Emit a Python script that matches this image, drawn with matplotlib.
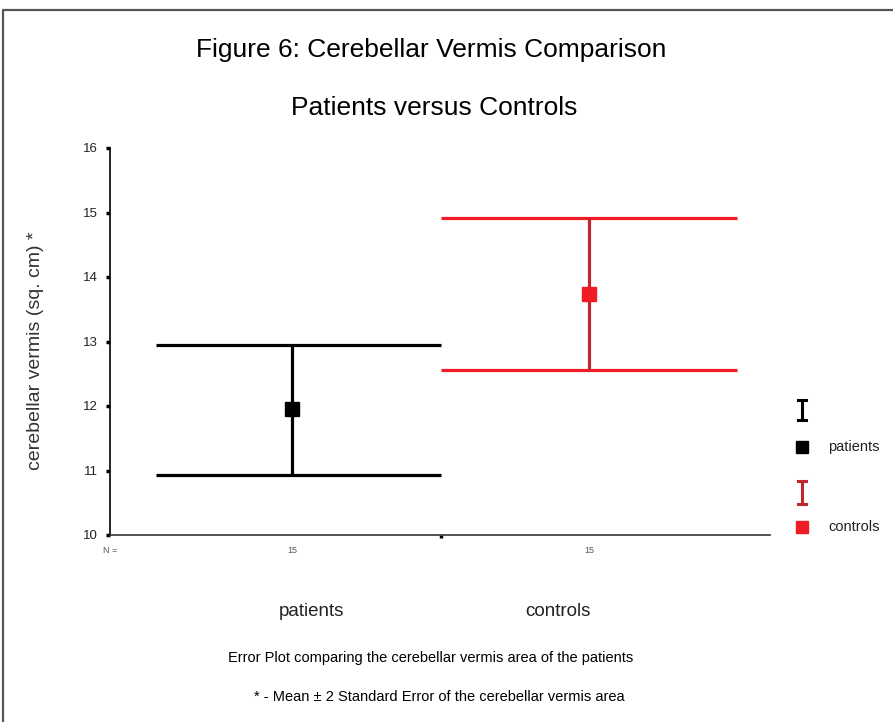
import matplotlib

matplotlib.use("Agg")
import matplotlib.pyplot as plt
import numpy as np
from matplotlib.lines import Line2D

plt.rcParams["font.family"] = ["Liberation Sans", "DejaVu Sans"]

# data (mean +/- 2 SE)
groups = ["patients", "controls"]
means = [11.95, 13.74]
lower = [10.93, 12.56]
upper = [12.95, 14.91]
n_counts = [15, 15]
colors = ["#000000", "#ee1c24"]
stem_colors = ["#000000", "#c0282d"]
y_ticks = [10, 11, 12, 13, 14, 15, 16]

W, H = 893, 722
fig = plt.figure(figsize=(W / 100, H / 100), dpi=100)


def px(x, y):
    return x / W, 1 - y / H


# figure frame (only left and top edges are visible in the source)
fig.add_artist(Line2D([3 / W, 3 / W, 1], [0, 1 - 10 / H, 1 - 10 / H], transform=fig.transFigure,
                      color="#555555", linewidth=1.6))

ax = fig.add_axes([110 / W, 1 - 535 / H, 660 / W, 387 / H])
pos = np.arange(1, len(groups) + 1)
cap_left = [0.46, 0.5]
cap_right = [0.5, 0.5]
for p, m, lo, hi, c, sc, cl, cr in zip(pos, means, lower, upper, colors, stem_colors, cap_left, cap_right):
    ax.hlines([lo, hi], p - cl, p + cr, color=c, linewidth=2.3)
    ax.vlines(p, lo, hi, color=sc, linewidth=2.3)
    ax.plot(p, m, marker="s", markersize=10, color=c, linestyle="none", zorder=3)

ax.set_xlim(0.385, 2.61)
ax.set_ylim(10, 16)
ax.set_yticks(y_ticks)
ax.tick_params(axis="y", direction="out", length=3, width=2.5, labelsize=9.5,
               labelcolor="#222222", pad=6)
ax.set_xticks([1.5])
ax.set_xticklabels([])
ax.tick_params(axis="x", direction="out", length=2, width=2.5)
for s in ["top", "right"]:
    ax.spines[s].set_visible(False)
ax.spines["left"].set_linewidth(1.2)
ax.spines["bottom"].set_linewidth(1.2)
ax.spines["bottom"].set_color("#333333")
ax.set_ylabel("cerebellar vermis (sq. cm) *", fontsize=14, color="#333333")
ax.yaxis.set_label_coords(-0.1, 0.475)

# N counts under each group
ax.text(0.385, -0.04, "N =", transform=ax.get_xaxis_transform(), ha="center", va="center",
        fontsize=6.5, color="#555555")
for p, n in zip(pos, n_counts):
    ax.text(p, -0.04, str(n), transform=ax.get_xaxis_transform(), ha="center", va="center",
            fontsize=6.5, color="#555555")

# category labels
label_shift = [0.064, -0.104]
for p, g, d in zip(pos, groups, label_shift):
    ax.text(p + d, -0.198, g, transform=ax.get_xaxis_transform(), ha="center", va="center",
            fontsize=13.5, color="#222222")

# titles and captions
fig.text(*px(431, 50), "Figure 6: Cerebellar Vermis Comparison", ha="center", va="center", fontsize=19)
fig.text(*px(434, 108), "Patients versus Controls", ha="center", va="center", fontsize=19)
fig.text(*px(431, 658), "Error Plot comparing the cerebellar vermis area of the patients",
         ha="center", va="center", fontsize=10.5)
fig.text(*px(439, 697), "* - Mean \u00b1 2 Standard Error of the cerebellar vermis area",
         ha="center", va="center", fontsize=10.5)

# legend drawn on an overlay in pixel space
ov = fig.add_axes([0, 0, 1, 1], facecolor="none")
ov.set_xlim(0, W)
ov.set_ylim(H, 0)
ov.axis("off")
legend_rows = [(400, 420, 447), (481, 504, 527)]
for (top, bot, sq), g, c, sc in zip(legend_rows, groups, colors, stem_colors):
    ov.add_line(Line2D([802, 802], [top, bot], color=sc, linewidth=2.2))
    ov.add_line(Line2D([798, 806], [top, top], color=sc, linewidth=2.2))
    ov.add_line(Line2D([798, 806], [bot, bot], color=sc, linewidth=2.2))
    ov.plot(802, sq, marker="s", markersize=9, color=c)
    ov.text(828, sq, g, ha="left", va="center", fontsize=10.5, color="#222222")

fig.savefig("out.png", dpi=100)
